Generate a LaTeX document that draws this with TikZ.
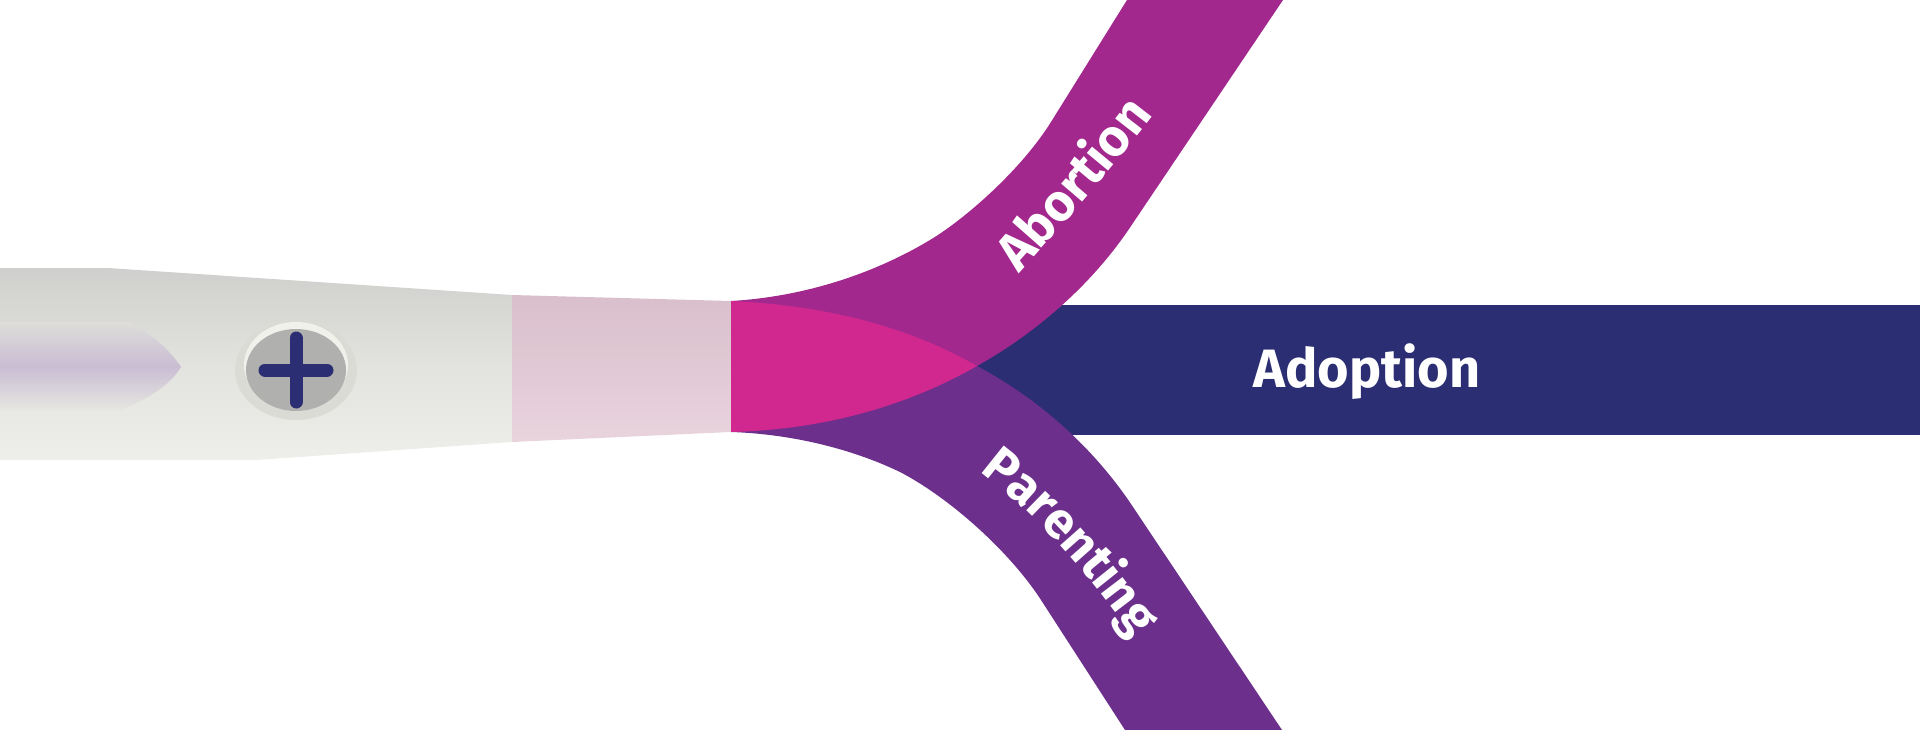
\documentclass[tikz,border=0pt]{standalone}
\usepackage{fontspec}
\setmainfont{Fira Sans}
\usetikzlibrary{calc}
\usetikzlibrary{decorations.text}
\definecolor{navybar}{HTML}{2B2E72}
\definecolor{abortionpurple}{HTML}{A2288E}
\definecolor{parentingpurple}{HTML}{6C2F8C}
\definecolor{tipmagenta}{HTML}{D0288E}
\definecolor{bodytop}{HTML}{CFCFCD}
\definecolor{bodymid}{HTML}{E2E3DE}
\definecolor{bodybottom}{HTML}{EEEFEA}
\definecolor{capstop}{HTML}{D9BFCB}
\definecolor{capsbottom}{HTML}{E9D4DE}
\definecolor{windowtop}{HTML}{DEDEDA}
\definecolor{windowmid}{HTML}{C9BDD3}
\definecolor{windowbottom}{HTML}{E5E6E1}
\definecolor{ovalrim}{HTML}{DADBD5}
\definecolor{ovallight}{HTML}{F0F1EB}
\definecolor{ovalgrey}{HTML}{B0B0AE}
\begin{document}
\begin{tikzpicture}[x=1pt, y=-1pt,
    flat/.style={fill=#1, draw=none},
    crossbar/.style={draw=navybar, line width=13pt, line cap=round}]
    \useasboundingbox (0, 0) rectangle (1920, 730);
    \coordinate (junctiontop) at (731, 301);
    \coordinate (junctionbottom) at (731, 432);
    \coordinate (tip) at (977, 366);
    \coordinate (oval) at (296, 370);
    \path[flat=navybar] (960, 305) rectangle (1920, 435);
    \path[top color=bodytop, bottom color=bodybottom, middle color=bodymid] (0, 268) -- (108, 268) -- (512, 295) -- (512, 442) -- (257, 460) -- (0, 460) -- cycle;
    \path[top color=capstop, bottom color=capsbottom] (512, 295) -- (junctiontop) -- (junctionbottom) -- (512, 442) -- cycle;
    \path[flat=abortionpurple] (junctiontop) .. controls (800, 297) and (870, 276) .. (930, 240) .. controls (965, 219) and (1021, 170) .. (1051, 122) -- (1127, 0) -- (1283, 0) -- (1129, 229) .. controls (1100, 272) and (1050, 325) .. (tip) -- cycle;
    \path[flat=parentingpurple] (junctionbottom) .. controls (790, 434) and (850, 448) .. (900, 472) .. controls (950, 498) and (1010, 552) .. (1041, 600) -- (1125, 730) -- (1282, 730) -- (1131, 504) .. controls (1100, 458) and (1050, 405) .. (tip) -- cycle;
    \path[flat=tipmagenta] (junctiontop) .. controls (815, 305) and (900, 322) .. (tip) .. controls (900, 410) and (815, 430) .. (junctionbottom) -- cycle;
    \path[top color=windowtop, bottom color=windowbottom, middle color=windowmid] (0, 322) -- (130, 322) .. controls (150, 333) and (170, 350) .. (181, 367) .. controls (170, 385) and (150, 398) .. (120, 410) -- (0, 410) -- cycle;
    \path[flat=ovalrim] (oval) ellipse [x radius=61, y radius=50];
    \path[flat=ovallight] ($(oval)+(0, -5)$) ellipse [x radius=52, y radius=43];
    \path[flat=ovalgrey] (oval) ellipse [x radius=50, y radius=41];
    \path[crossbar] ($(oval)+(0, -32)$) -- ($(oval)+(0, 32)$);
    \path[crossbar] ($(oval)+(-31, 0)$) -- ($(oval)+(31, 0)$);
    \node[font=\fontsize{54}{54}\selectfont\bfseries, text=white] (adoption) at (1367, 372) {Adoption};
    \path[decorate, decoration={text along path, text align=center, text={|\fontsize{52}{52}\selectfont\bfseries\color{white}|Abortion}}] (1012, 282) .. controls (1060, 228) and (1112, 170) .. (1160, 106);
    \path[decorate, decoration={text along path, text align=center, text={|\fontsize{51}{51}\selectfont\bfseries\color{white}|Parenting}}] (978, 470) .. controls (1035, 512) and (1090, 575) .. (1135, 640);
\end{tikzpicture}
\end{document}
